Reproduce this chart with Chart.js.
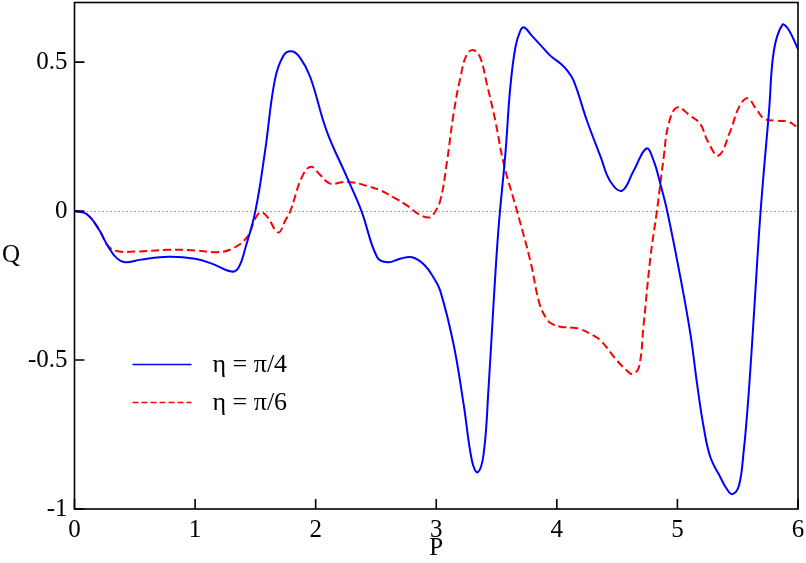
<!DOCTYPE html>
<html><head><meta charset="utf-8">
<script src="https://cdn.jsdelivr.net/npm/chart.js@4/dist/chart.umd.min.js"></script>
<style>html,body{margin:0;padding:0;background:#fff}#wrap{width:806px;height:563px}</style>
</head><body><div id="wrap"><canvas id="c" width="806" height="563"></canvas></div>
<script>
const xTicks = [0, 1, 2, 3, 4, 5, 6];
const yTicks = [-1, -0.5, 0, 0.5];
const seriesNames = ['η = π/4', 'η = π/6'];
const xTitle = 'P';
const yTitle = 'Q';

const pBlue = [0,0.1,0.2,0.28,0.35,0.42,0.55,0.78,1.0,1.15,1.30,1.36,1.42,1.50,1.58,1.66,1.73,1.80,1.87,1.955,2.09,2.26,2.38,2.51,2.60,2.70,2.80,2.90,2.98,3.033,3.143,3.227,3.296,3.343,3.393,3.434,3.475,3.517,3.573,3.614,3.656,3.697,3.73,3.794,3.863,3.95,4.03,4.08,4.14,4.25,4.365,4.44,4.54,4.637,4.743,4.803,4.859,4.915,5.025,5.108,5.163,5.218,5.274,5.357,5.41,5.454,5.51,5.55,5.58,5.606,5.633,5.69,5.76,5.80,5.87,5.92,6.0];
const qBlue = [0,-0.01,-0.06,-0.12,-0.158,-0.172,-0.163,-0.153,-0.16,-0.178,-0.203,-0.19,-0.12,0,0.2,0.437,0.52,0.536,0.515,0.45,0.27,0.113,0,-0.155,-0.172,-0.16,-0.155,-0.18,-0.225,-0.267,-0.446,-0.648,-0.838,-0.877,-0.815,-0.592,-0.312,-0.055,0.191,0.415,0.549,0.605,0.616,0.588,0.558,0.52,0.495,0.475,0.437,0.303,0.18,0.102,0.068,0.135,0.21,0.169,0.09,0,-0.223,-0.413,-0.58,-0.726,-0.827,-0.894,-0.933,-0.95,-0.922,-0.804,-0.67,-0.525,-0.357,0,0.337,0.538,0.625,0.61,0.544];

const pRed = [0,0.1,0.2,0.28,0.36,0.5,0.78,1.0,1.17,1.30,1.43,1.50,1.545,1.60,1.69,1.75,1.79,1.885,1.96,2.04,2.12,2.22,2.31,2.42,2.535,2.65,2.76,2.86,2.94,2.97,3.033,3.09,3.143,3.2,3.255,3.31,3.365,3.42,3.49,3.56,3.67,3.78,3.857,3.92,3.96,4.03,4.14,4.195,4.305,4.365,4.50,4.58,4.624,4.68,4.72,4.776,4.83,4.886,4.927,4.997,5.106,5.19,5.25,5.34,5.44,5.51,5.58,5.65,5.72,5.83,5.92,6.0];
const qRed = [0,-0.01,-0.06,-0.118,-0.135,-0.136,-0.13,-0.132,-0.138,-0.128,-0.088,-0.025,-0.004,-0.02,-0.072,-0.03,0,0.113,0.149,0.12,0.092,0.097,0.096,0.085,0.07,0.045,0.018,-0.012,-0.022,-0.015,0.035,0.169,0.325,0.448,0.527,0.54,0.515,0.426,0.303,0.158,0,-0.167,-0.312,-0.365,-0.379,-0.388,-0.392,-0.396,-0.418,-0.435,-0.502,-0.535,-0.547,-0.525,-0.38,-0.156,0,0.18,0.292,0.348,0.32,0.292,0.236,0.186,0.27,0.348,0.379,0.345,0.31,0.303,0.30,0.28];

const FONT = "'Liberation Serif','Times New Roman',serif";
const toPts = (xs, ys) => xs.map((x, i) => ({x: x, y: ys[i]}));

const decor = {
  id: 'decor',
  beforeDatasetsDraw(chart) {
    const {ctx, chartArea: a, scales: {x, y}} = chart;
    const y0 = y.getPixelForValue(0);
    ctx.save();
    ctx.strokeStyle = '#444';
    ctx.lineWidth = 1;
    ctx.setLineDash([1, 3]);
    ctx.beginPath();
    ctx.moveTo(a.left, Math.round(y0) + 0.5);
    ctx.lineTo(a.right, Math.round(y0) + 0.5);
    ctx.stroke();
    ctx.restore();
  },
  afterDatasetsDraw(chart) {
    const {ctx, chartArea: a, scales: {x, y}} = chart;
    ctx.save();
    ctx.strokeStyle = '#000';
    ctx.lineWidth = 1.6;
    ctx.setLineDash([]);
    ctx.strokeRect(a.left, a.top, a.right - a.left, a.bottom - a.top);
    ctx.beginPath();
    yTicks.forEach(v => {
      const py = y.getPixelForValue(v);
      ctx.moveTo(a.left, py); ctx.lineTo(a.left + 10, py);
    });
    xTicks.forEach(v => {
      const px = x.getPixelForValue(v);
      ctx.moveTo(px, a.bottom); ctx.lineTo(px, a.bottom - 10);
    });
    ctx.stroke();
    ctx.fillStyle = '#000';
    ctx.font = '25px ' + FONT;
    ctx.textAlign = 'center';
    ctx.textBaseline = 'middle';
    ctx.fillText(yTitle, 11, (a.top + a.bottom) / 2);
    ctx.fillText(xTitle, (a.left + a.right) / 2, 548);
    const ds = chart.data.datasets;
    ctx.font = '26px ' + FONT;
    ctx.textAlign = 'left';
    [0, 1].forEach(i => {
      const ly = a.top + 362 + i * 38;
      ctx.strokeStyle = ds[i].borderColor;
      ctx.lineWidth = 1.4;
      ctx.setLineDash(ds[i].borderDash ? [6, 3] : []);
      ctx.beginPath();
      ctx.moveTo(a.left + 58, ly);
      ctx.lineTo(a.left + 117, ly);
      ctx.stroke();
      ctx.setLineDash([]);
      ctx.fillText(ds[i].label, a.left + 138, ly + 1);
    });
    ctx.restore();
  }
};

new Chart(document.getElementById('c'), {
  type: 'line',
  data: {
    datasets: [
      {label: seriesNames[0], data: toPts(pBlue, qBlue), borderColor: '#0000ff', borderWidth: 2, pointRadius: 0, tension: 0.4, fill: false},
      {label: seriesNames[1], data: toPts(pRed, qRed), borderColor: '#ff0000', borderWidth: 2, borderDash: [8, 4], pointRadius: 0, tension: 0.4, fill: false}
    ]
  },
  options: {
    responsive: false,
    animation: false,
    devicePixelRatio: 1,
    layout: {padding: {left: 0, right: 8, top: 2.5, bottom: 0}},
    plugins: {legend: {display: false}, tooltip: {enabled: false}},
    scales: {
      x: {
        type: 'linear', min: 0, max: 6,
        afterFit(s) { s.height = 54; s.paddingLeft = 0; s.paddingRight = 0; },
        afterBuildTicks(s) { s.ticks = xTicks.map(v => ({value: v})); },
        grid: {display: false, drawTicks: false},
        border: {display: false},
        ticks: {color: '#000', font: {family: FONT, size: 25}, padding: 6, maxRotation: 0, callback: v => String(v)}
      },
      y: {
        type: 'linear', min: -1, max: 0.7,
        afterFit(s) { s.width = 74.5; s.paddingTop = 0; s.paddingBottom = 0; },
        afterBuildTicks(s) { s.ticks = yTicks.map(v => ({value: v})); },
        grid: {display: false, drawTicks: false},
        border: {display: false},
        ticks: {color: '#000', font: {family: FONT, size: 25}, padding: 7, callback: v => String(v)}
      }
    }
  },
  plugins: [decor]
});
</script></body></html>
